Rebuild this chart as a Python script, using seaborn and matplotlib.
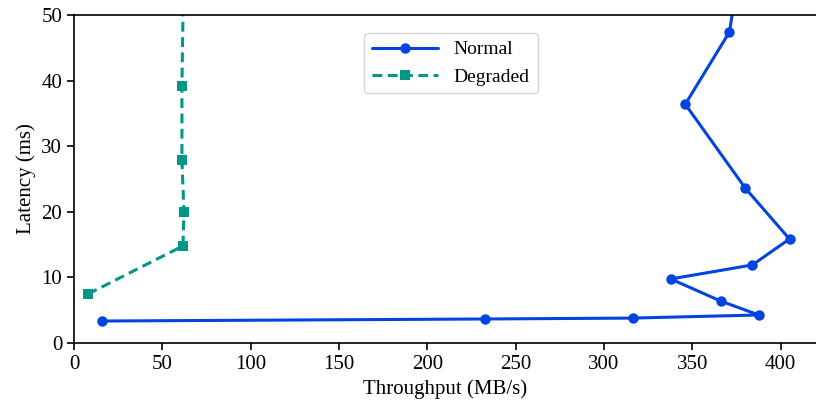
import matplotlib
matplotlib.use("Agg")
import matplotlib.pyplot as plt
import seaborn as sns
import pandas as pd

# Valores (o último ponto de cada série fica acima do eixo)
normal_thr = [15.8, 232.5, 316.3, 387.6, 366.0, 337.8, 384.0, 405.0, 380.0, 346.0, 371.0, 376.0]
normal_lat = [3.35, 3.66, 3.8, 4.27, 6.4, 9.76, 11.9, 15.85, 23.6, 36.4, 47.4, 56.0]
degr_thr = [7.9, 61.7, 62.2, 61.1, 61.1, 62.0]
degr_lat = [7.47, 14.8, 20.0, 27.9, 39.2, 56.0]

sns.set_style("ticks")
plt.rcParams['font.family'] = ['Liberation Serif', 'DejaVu Serif']
plt.rcParams['font.size'] = 15
plt.rcParams['text.color'] = 'black'
plt.rcParams['axes.labelcolor'] = 'black'

df_n = pd.DataFrame({'thr': normal_thr, 'lat': normal_lat})
df_d = pd.DataFrame({'thr': degr_thr, 'lat': degr_lat})

fig = plt.figure(figsize=(8.16, 4.04), dpi=100)
ax = fig.add_axes([74 / 816, 61 / 404, 1 - 74 / 816, (343 - 15) / 404])

sns.lineplot(data=df_n, x='thr', y='lat', sort=False, estimator=None, ax=ax,
             color='#0343df', marker='o', markersize=7.5, markeredgewidth=0,
             linewidth=2.2, label='Normal')
sns.lineplot(data=df_d, x='thr', y='lat', sort=False, estimator=None, ax=ax,
             color='#009688', marker='s', markersize=7.5, markeredgewidth=0,
             linewidth=2.2, linestyle=(0, (3.2, 1.8)), label='Degraded')

ax.set_xlim(0, 420)
ax.set_ylim(0, 50)
ax.set_xticks(range(0, 401, 50))
ax.set_yticks(range(0, 51, 10))
ax.set_xlabel('Throughput (MB/s)', fontsize=15)
ax.set_ylabel('Latency (ms)', fontsize=15)
ax.spines['right'].set_visible(False)
for s in ['left', 'bottom', 'top']:
    ax.spines[s].set_color('black')
    ax.spines[s].set_linewidth(1.2)
ax.tick_params(direction='out', length=5, width=1.2, colors='black', labelsize=15)

leg = ax.legend(loc='upper center', bbox_to_anchor=(0.508, 0.975), fontsize=14,
                frameon=True, handlelength=3.4)
leg.get_frame().set_edgecolor('#cccccc')
for t in leg.get_texts():
    t.set_color('black')

fig.savefig('out.png', dpi=100)
